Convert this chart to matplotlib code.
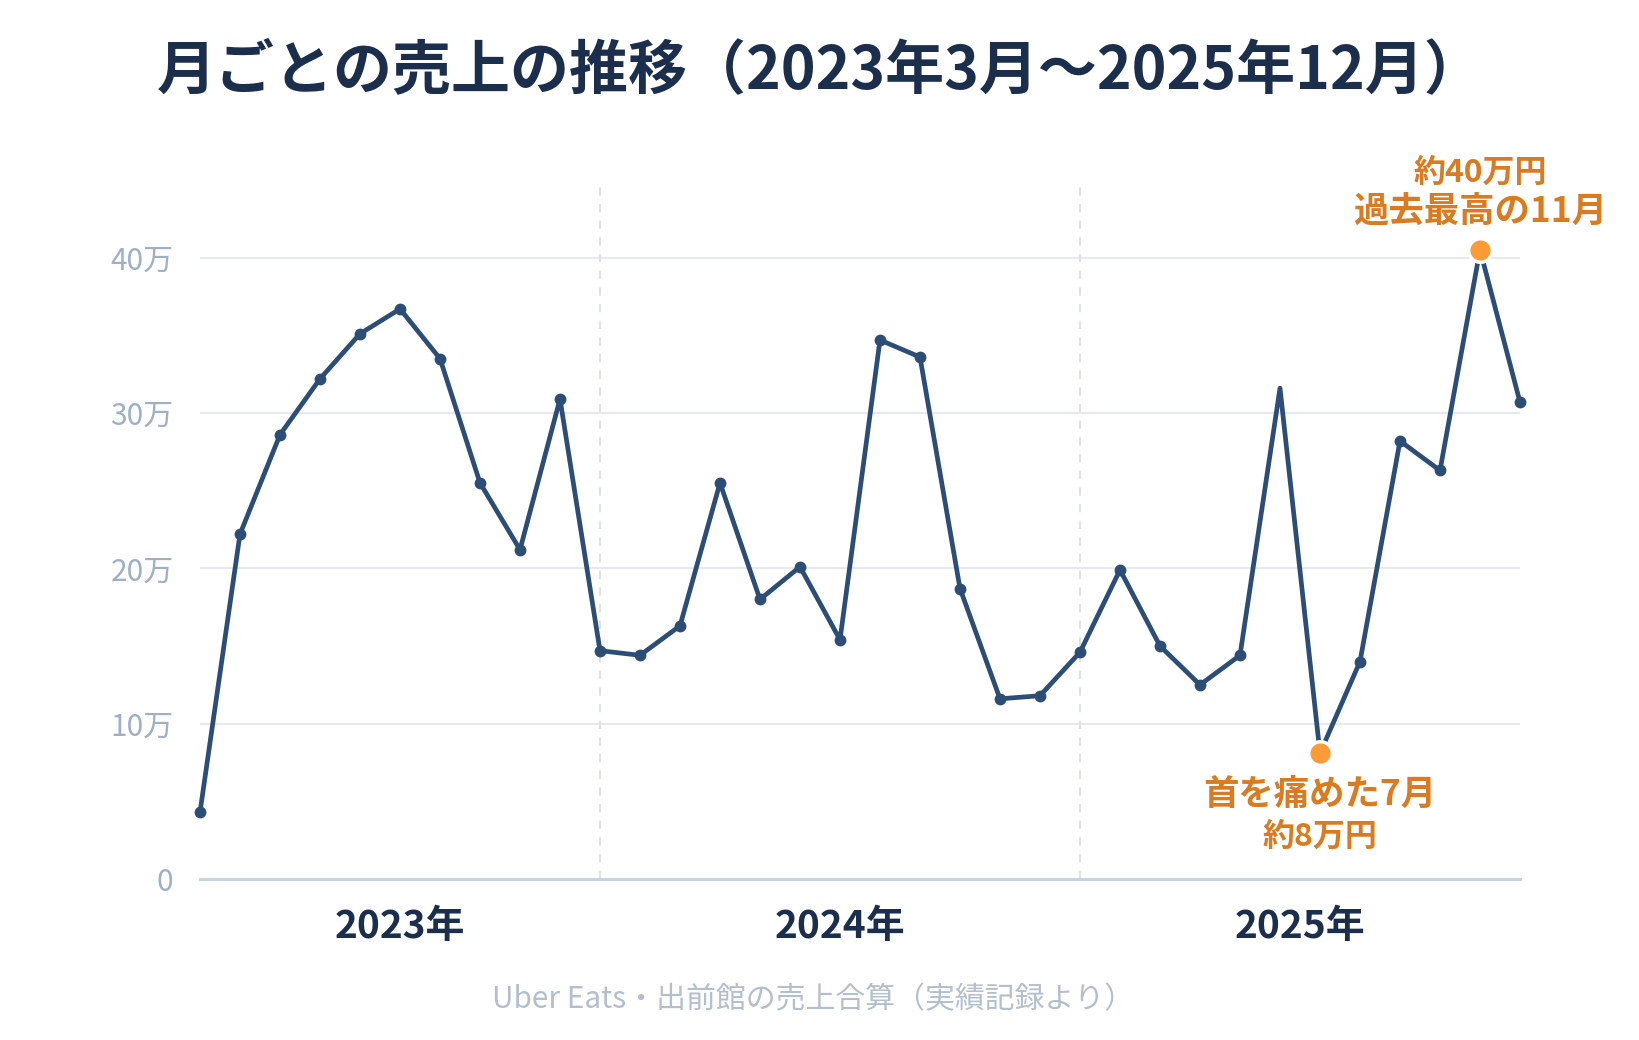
import matplotlib
matplotlib.use("Agg")
import matplotlib.pyplot as plt

plt.rcParams['font.family'] = ['Noto Sans CJK JP', 'DejaVu Sans']

# ---- data ----
months = ["2023-03", "2023-04", "2023-05", "2023-06", "2023-07", "2023-08", "2023-09",
          "2023-10", "2023-11", "2023-12", "2024-01", "2024-02", "2024-03", "2024-04",
          "2024-05", "2024-06", "2024-07", "2024-08", "2024-09", "2024-10", "2024-11",
          "2024-12", "2025-01", "2025-02", "2025-03", "2025-04", "2025-05", "2025-06",
          "2025-07", "2025-08", "2025-09", "2025-10", "2025-11", "2025-12"]
sales_man = [4.3, 22.2, 28.6, 32.2, 35.1, 36.7, 33.5, 25.5, 21.2, 30.9,
             14.7, 14.4, 16.3, 25.5, 18.0, 20.1, 15.4, 34.7, 33.6, 18.7,
             11.6, 11.8, 14.6, 19.9, 15.0, 12.5, 14.4, 31.6, 8.1, 14.0,
             28.2, 26.3, 40.5, 30.7]
no_marker_months = ["2025-06"]
highlight_months = ["2025-07", "2025-11"]
year_labels = ["2023年", "2024年", "2025年"]
y_ticks = [0, 10, 20, 30, 40]
y_tick_labels = ["0", "10万", "20万", "30万", "40万"]
title = "月ごとの売上の推移（2023年3月～2025年12月）"
footer = "Uber Eats・出前館の売上合算（実績記録より）"
ann_low = ["首を痛めた7月", "約8万円"]
ann_high = ["約40万円", "過去最高の11月"]

# ---- derived positions ----
x = list(range(len(months)))
year_starts = [i for i, m in enumerate(months) if m.endswith("-01")]
bounds = [0] + year_starts + [len(months) - 1]
year_centers = [(bounds[i] + bounds[i + 1]) / 2 for i in range(len(bounds) - 1)]
mark_idx = [i for i, m in enumerate(months) if m not in no_marker_months and m not in highlight_months]
hi_idx = [months.index(m) for m in highlight_months]

NAVY = "#2b4d76"
DARK = "#1b2e4b"
ORANGE = "#ff9b36"
ORANGE_TXT = "#d97b1e"

fig = plt.figure(figsize=(16.4, 10.4), dpi=100)
fig.patch.set_facecolor("white")
ax = fig.add_axes([200 / 1640, 1 - 879 / 1040, 1320 / 1640, (879 - 180) / 1040])

ax.set_xlim(0, len(months) - 1)
ax.set_ylim(0, 45)

for s in ["top", "right", "left"]:
    ax.spines[s].set_visible(False)
ax.spines["bottom"].set_color("#c9d2de")
ax.spines["bottom"].set_linewidth(2.2)

for yv in y_ticks[1:]:
    ax.axhline(yv, color="#e6e9ef", lw=1.6, zorder=1)
for xs in year_starts:
    ax.axvline(xs, color="#dde1ea", lw=1.5, dashes=(4, 4), zorder=1)

ax.plot(x, sales_man, color=NAVY, lw=3.4, zorder=3, solid_joinstyle="round",
        marker="o", markersize=8.5, markevery=mark_idx, markeredgewidth=0, clip_on=False)
ax.scatter([x[i] for i in hi_idx], [sales_man[i] for i in hi_idx], s=17 ** 2,
           color=ORANGE, edgecolor="white", linewidth=2.5, zorder=5, clip_on=False)

ax.set_yticks(y_ticks)
ax.set_yticklabels(y_tick_labels)
ax.tick_params(axis="y", length=0, pad=19, labelsize=21.5, labelcolor="#9fb0c6")
ax.set_xticks(year_centers)
ax.set_xticklabels(year_labels, fontsize=28, fontweight="bold", color=DARK)
ax.tick_params(axis="x", length=0, pad=20)

# annotations
i_low, i_high = hi_idx
common = dict(textcoords="offset points", ha="center", va="center", fontweight="bold",
              color=ORANGE_TXT, zorder=6, annotation_clip=False)
ax.annotate(ann_low[0], (x[i_low], sales_man[i_low]), xytext=(0, -30), fontsize=25.5, **common)
ax.annotate(ann_low[1], (x[i_low], sales_man[i_low]), xytext=(0, -60), fontsize=23, **common)
ax.annotate(ann_high[1], (x[i_high], sales_man[i_high]), xytext=(0, 27), fontsize=25.5, **common)
ax.annotate(ann_high[0], (x[i_high], sales_man[i_high]), xytext=(0, 55.5), fontsize=23, **common)

fig.text(0.5, 1 - 71 / 1040, title, ha="center", va="center", fontsize=42.5,
         fontweight="bold", color=DARK)
fig.text(0.496, 1 - 1000 / 1040, footer, ha="center", va="center", fontsize=21.5,
         color="#b3bfcd")

fig.savefig("out.png", dpi=100, facecolor="white")
